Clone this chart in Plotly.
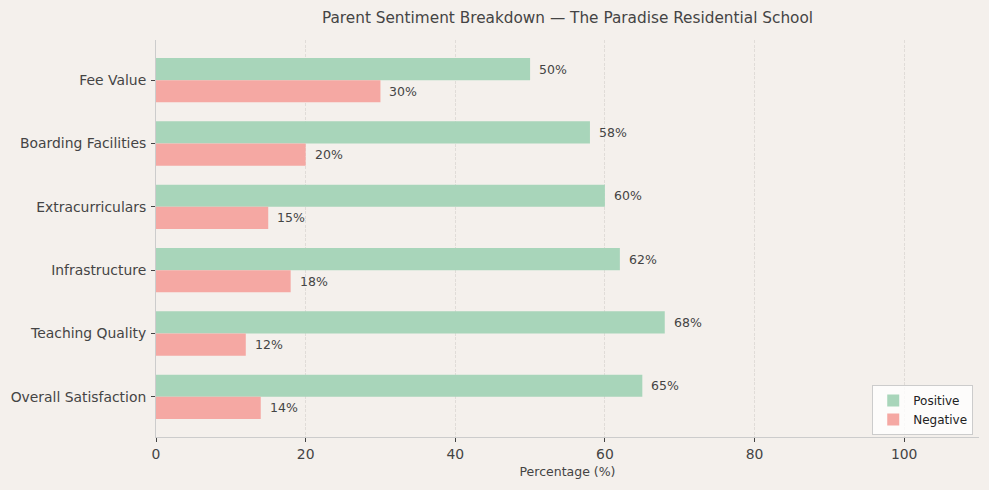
import plotly.graph_objects as go

categories = ["Overall Satisfaction", "Teaching Quality", "Infrastructure",
              "Extracurriculars", "Boarding Facilities", "Fee Value"]
positive = [65, 68, 62, 60, 58, 50]
negative = [14, 12, 18, 15, 20, 30]
x_ticks = [0, 20, 40, 60, 80, 100]

FONT = "DejaVu Sans"
TXT = "#444444"
W = 0.35

fig = go.Figure()
fig.add_trace(go.Bar(
    y=categories, x=positive, orientation="h", name="Positive",
    width=W, offset=0, marker=dict(color="#a8d5ba", line=dict(width=0)),
))
fig.add_trace(go.Bar(
    y=categories, x=negative, orientation="h", name="Negative",
    width=W, offset=-W, marker=dict(color="#f5a8a3", line=dict(width=0)),
))

annotations = []
for ci, (p, n) in enumerate(zip(positive, negative)):
    annotations.append(dict(x=p, y=ci + W / 2, xref="x", yref="y", text=f"{p}%",
                            showarrow=False, xanchor="left", yanchor="middle", xshift=7,
                            font=dict(family=FONT, size=12.5, color=TXT)))
    annotations.append(dict(x=n, y=ci - W / 2, xref="x", yref="y", text=f"{n}%",
                            showarrow=False, xanchor="left", yanchor="middle", xshift=7,
                            font=dict(family=FONT, size=12.5, color=TXT)))

fig.update_layout(
    width=989, height=490,
    paper_bgcolor="#f4f0ec", plot_bgcolor="#f4f0ec",
    margin=dict(l=156, r=10, t=40, b=53),
    barmode="overlay",
    font=dict(family=FONT, color=TXT),
    annotations=annotations,
    title=dict(text="Parent Sentiment Breakdown — The Paradise Residential School",
               x=0.5, xref="paper", xanchor="center", y=0.965, yanchor="middle",
               font=dict(family=FONT, size=15.3, color=TXT)),
    xaxis=dict(range=[0, 110], tickvals=x_ticks, showgrid=True,
               gridcolor="#e0dcd8", griddash="3px,1.5px", gridwidth=1,
               zeroline=False, showline=True, linecolor="#cccccc", linewidth=1,
               ticks="outside", ticklen=4, tickcolor="#444444",
               tickfont=dict(family=FONT, size=13.9, color=TXT),
               title=dict(text="Percentage (%)", font=dict(family=FONT, size=12.5, color=TXT),
                          standoff=6)),
    yaxis=dict(range=[-0.635, 5.635], showgrid=False, zeroline=False,
               showline=True, linecolor="#cccccc", linewidth=1,
               ticks="outside", ticklen=4, tickcolor="#444444",
               ticklabelstandoff=2,
               tickfont=dict(family=FONT, size=13.9, color=TXT)),
    legend=dict(x=0.993, y=0.005, xanchor="right", yanchor="bottom",
                bgcolor="rgba(255,255,255,0.8)", bordercolor="#cccccc", borderwidth=1,
                font=dict(family=FONT, size=12, color="#222222"),
                tracegroupgap=0, traceorder="normal"),
    showlegend=True,
)

fig.write_html("out.html")
